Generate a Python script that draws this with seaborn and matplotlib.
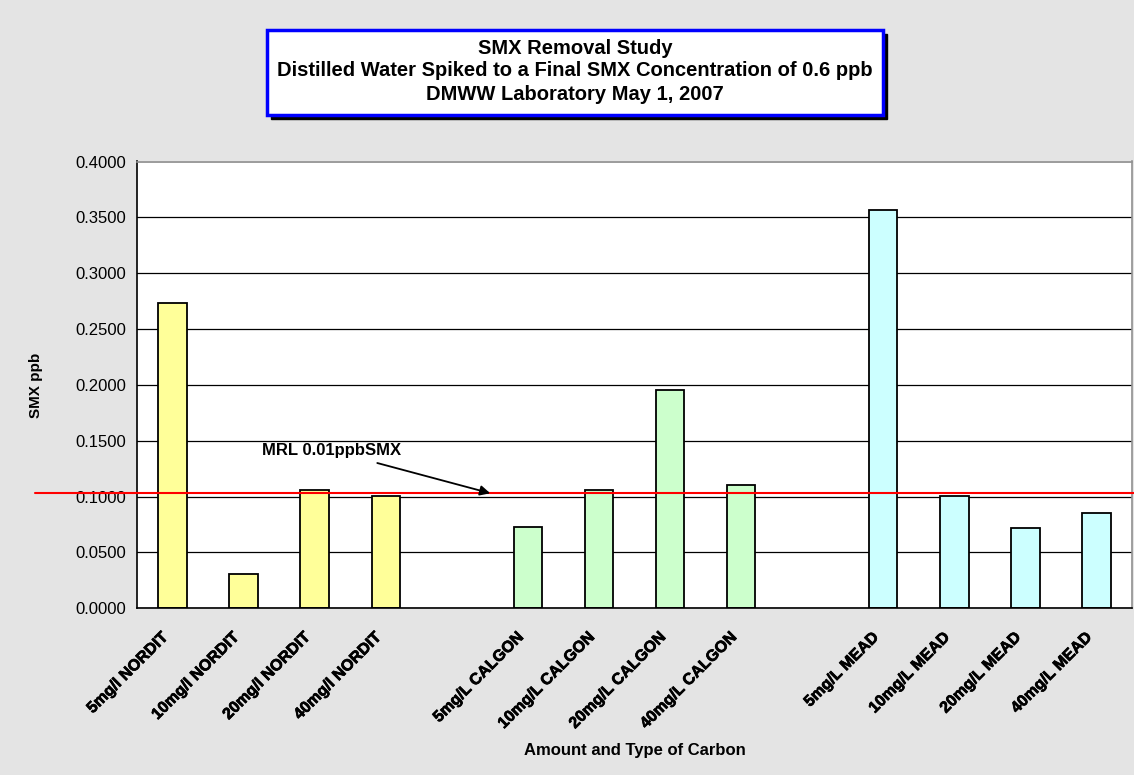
import matplotlib
matplotlib.use("Agg")
import matplotlib.pyplot as plt
import matplotlib.transforms as mtransforms
import matplotlib.patheffects as pe
from matplotlib.patches import Rectangle
import seaborn as sns
import pandas as pd

# ---- data ----
categories = ["5mg/l NORDIT", "10mg/l NORDIT", "20mg/l NORDIT", "40mg/l NORDIT",
              "5mg/L CALGON", "10mg/L CALGON", "20mg/L CALGON", "40mg/L CALGON",
              "5mg/L MEAD", "10mg/L MEAD", "20mg/L MEAD", "40mg/L MEAD"]
values = [0.2736, 0.0310, 0.1060, 0.1008,
          0.0730, 0.1060, 0.1950, 0.1100,
          0.3570, 0.1008, 0.0719, 0.0850]
groups = ["NORDIT"] * 4 + ["CALGON"] * 4 + ["MEAD"] * 4
gap_slots = ["gap1", "gap2"]
order = categories[:4] + [gap_slots[0]] + categories[4:8] + [gap_slots[1]] + categories[8:]
group_colors = {"NORDIT": "#FFFF99", "CALGON": "#CCFFCC", "MEAD": "#CCFFFF"}
yticks = [0.0, 0.05, 0.10, 0.15, 0.20, 0.25, 0.30, 0.35, 0.40]
mrl_value = 0.103
mrl_label = "MRL 0.01ppbSMX"
title_lines = ["SMX Removal Study",
               "Distilled Water Spiked to a Final SMX Concentration of 0.6 ppb",
               "DMWW Laboratory May 1, 2007"]
xlabel = "Amount and Type of Carbon"
ylabel = "SMX ppb"

df = pd.DataFrame({"label": categories, "value": values, "group": groups})

sns.set_theme(style="white")
plt.rcParams["font.family"] = ["Liberation Sans", "DejaVu Sans"]
plt.rcParams["text.color"] = "black"
plt.rcParams["xtick.color"] = "black"
plt.rcParams["ytick.color"] = "black"

W, H = 1134, 775
fig = plt.figure(figsize=(W / 100, H / 100), dpi=100)
fig.patch.set_facecolor("#E4E4E4")

def fx(px):
    return px / W

def fy(py):
    return 1 - py / H

ax_left, ax_right, ax_top, ax_bottom = 137, 1132, 161.5, 608.3
ax = fig.add_axes([fx(ax_left), fy(ax_bottom), fx(ax_right - ax_left), (ax_bottom - ax_top) / H])
ax.set_facecolor("white")

sns.barplot(data=df, x="label", y="value", hue="group", order=order,
            palette=group_colors, width=0.4, dodge=False, edgecolor="black",
            linewidth=1.3, legend=False, ax=ax, saturation=1)

ax.set_xlim(-0.5, len(order) - 0.5)
ax.set_ylim(0, 0.4)
ax.set_yticks(yticks)
ax.set_yticklabels([f"{t:.4f}" for t in yticks], fontsize=12, color="black")
ax.yaxis.grid(True, color="black", linewidth=0.9)
ax.set_axisbelow(True)

# x ticks: labels at centers, tick marks at boundaries
ax.set_xticks(range(len(order)))
ax.set_xticklabels(["" if o in gap_slots else o for o in order])
ax.set_xticks([i - 0.5 for i in range(len(order) + 1)], minor=True)
ax.tick_params(axis="x", which="major", length=0, pad=15)
ax.tick_params(axis="x", which="minor", length=5, width=1, color="black", direction="out")
ax.tick_params(axis="y", which="major", length=5, width=1, color="black", direction="out", pad=3)
offset = mtransforms.ScaledTranslation(-12 / 100, 0, fig.dpi_scale_trans)
for lbl in ax.get_xticklabels():
    lbl.set_fontsize(11.5)
    lbl.set_fontweight("bold")
    lbl.set_color("black")
    lbl.set_rotation(45)
    lbl.set_ha("right")
    lbl.set_va("top")
    lbl.set_rotation_mode("anchor")
    lbl.set_path_effects([pe.withStroke(linewidth=0.5, foreground="black")])
    lbl.set_transform(lbl.get_transform() + offset)

for side in ["left", "bottom"]:
    ax.spines[side].set_color("black")
    ax.spines[side].set_linewidth(1.2)
for side in ["top", "right"]:
    ax.spines[side].set_color("#909090")
    ax.spines[side].set_linewidth(1.2)

ax.set_xlabel("")
ax.set_ylabel("")
fig.text(fx(634.5), fy(750), xlabel, ha="center", va="center", fontsize=12,
         fontweight="bold", color="black")
fig.text(fx(36), fy(385), ylabel, ha="center", va="center", rotation=90,
         fontsize=11, fontweight="bold", color="black")

# MRL line extending beyond the axes
ax.axhline(mrl_value, xmin=(35 - ax_left) / (ax_right - ax_left), xmax=1.002,
           color="#FF0000", linewidth=1.5, clip_on=False, zorder=5)
ax.annotate(mrl_label, xy=(4.47, mrl_value), xytext=(1.26, 0.141),
            fontsize=12, fontweight="bold", va="center", ha="left", color="black",
            arrowprops=dict(arrowstyle="-|>", color="black", lw=1.3,
                            shrinkA=4, shrinkB=0, mutation_scale=15),
            zorder=6)

# Title box with shadow
bx0, bx1, by0, by1 = 267, 883, 30, 115
shadow = Rectangle((fx(bx0 + 4), fy(by1 + 4)), fx(bx1 - bx0), (by1 - by0) / H,
                   transform=fig.transFigure, facecolor="black", edgecolor="black", zorder=1)
box = Rectangle((fx(bx0), fy(by1)), fx(bx1 - bx0), (by1 - by0) / H,
                transform=fig.transFigure, facecolor="white", edgecolor="#0000FF",
                linewidth=2.5, zorder=2)
fig.patches.extend([shadow, box])
for i, line in enumerate(title_lines):
    fig.text(fx((bx0 + bx1) / 2), fy(48 + 23 * i), line, ha="center", va="center",
             fontsize=14.5, fontweight="bold", color="black", zorder=3)

fig.savefig("out.png", dpi=100, facecolor=fig.get_facecolor())
